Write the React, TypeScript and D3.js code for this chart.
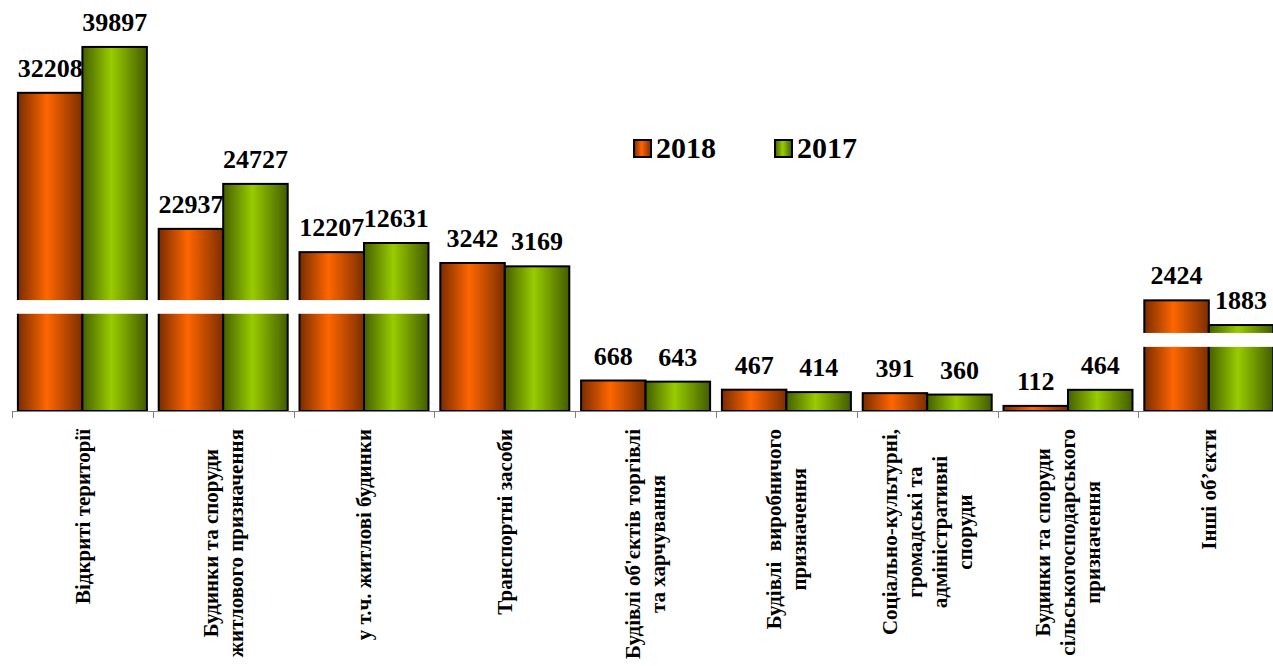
import { useEffect, useRef } from "react"
import * as d3 from "d3"

// categories (line breaks marked with "|")
const categories = [
  "Відкриті території",
  "Будинки та споруди|житлового призначення",
  "у т.ч. житлові будинки",
  "Транспортні засоби",
  "Будівлі об'єктів торгівлі|та харчування",
  "Будівлі  виробничого|призначення",
  "Соціально-культурні,|громадські та|адміністративні|споруди",
  "Будинки та споруди|сільськогосподарського|призначення",
  "Інші об’єкти",
]
const series = ["2018", "2017"]

// values shown in the labels
const labels2018 = [32208, 22937, 12207, 3242, 668, 467, 391, 112, 2424]
const labels2017 = [39897, 24727, 12631, 3169, 643, 414, 360, 464, 1883]

// bar heights in the chart's own (broken-axis) units, as drawn in the picture
const bars2018 = [6970, 3990, 3480, 3242, 668, 467, 391, 112, 2424]
const bars2017 = [7975, 4975, 3680, 3169, 643, 414, 360, 464, 1883]

// white "axis break" strips: first..last category, value range
const breakFrom = [0, 8]
const breakTo = [2, 8]
const breakLow = [2130, 1405]
const breakHigh = [2430, 1710]

const W = 1273
const H = 666

export default function App() {
  const svgRef = useRef<SVGSVGElement>(null)

  useEffect(() => {
    if (!svgRef.current) return
    const svg = d3.select(svgRef.current)
    svg.selectAll("*").remove()

    const baseY = 411
    const left = 12
    const step = 140.8

    const defs = svg.append("defs")
    const gradient = (id: string, stops: [number, string][]) => {
      const g = defs
        .append("linearGradient")
        .attr("id", id)
        .attr("x1", "0%")
        .attr("x2", "100%")
        .attr("y1", "0%")
        .attr("y2", "0%")
      stops.forEach(([o, c]) => g.append("stop").attr("offset", o).attr("stop-color", c))
    }
    gradient("grad2018", [
      [0, "#7a2c00"],
      [0.45, "#ff6600"],
      [1, "#7c2e00"],
    ])
    gradient("grad2017", [
      [0, "#455f00"],
      [0.45, "#99cc00"],
      [1, "#435c00"],
    ])
    const fills: Record<string, string> = { "2018": "url(#grad2018)", "2017": "url(#grad2017)" }

    const idx = d3.range(categories.length)
    const x = d3
      .scaleBand<number>()
      .domain(idx)
      .range([left, left + step * categories.length])
    const xs = d3.scaleBand<string>().domain(series).range([0, x.bandwidth()]).paddingOuter(0.0915)
    const y = d3.scaleLinear().domain([0, 9000]).range([baseY, baseY - 9000 * 0.04565])

    const rows = idx.flatMap((i) => [
      { i, s: "2018", h: bars2018[i], label: labels2018[i] },
      { i, s: "2017", h: bars2017[i], label: labels2017[i] },
    ])

    // bars
    svg
      .append("g")
      .selectAll("rect")
      .data(rows)
      .enter()
      .append("rect")
      .attr("x", (d) => x(d.i)! + xs(d.s)!)
      .attr("width", xs.bandwidth())
      .attr("y", (d) => y(d.h))
      .attr("height", (d) => baseY - y(d.h))
      .attr("fill", (d) => fills[d.s])
      .attr("stroke", "#000")
      .attr("stroke-width", 2)

    // break strips
    breakFrom.forEach((f, k) => {
      const x0 = x(f)! + xs("2018")! - 2
      const x1 = x(breakTo[k])! + xs("2017")! + xs.bandwidth() + 2
      svg
        .append("rect")
        .attr("x", x0)
        .attr("width", x1 - x0)
        .attr("y", y(breakHigh[k]))
        .attr("height", y(breakLow[k]) - y(breakHigh[k]))
        .attr("fill", "#fff")
    })

    // category axis
    const axis = svg.append("g").attr("stroke", "#808080").attr("stroke-width", 1)
    axis
      .append("line")
      .attr("x1", left)
      .attr("x2", W)
      .attr("y1", baseY + 0.5)
      .attr("y2", baseY + 0.5)
    idx.concat([categories.length]).forEach((i) => {
      const tx = Math.round(left + step * i) + 0.5
      axis.append("line").attr("x1", tx).attr("x2", tx).attr("y1", baseY).attr("y2", baseY + 7)
    })

    // value labels
    svg
      .append("g")
      .selectAll("text")
      .data(rows)
      .enter()
      .append("text")
      .attr("x", (d) => x(d.i)! + xs(d.s)! + xs.bandwidth() / 2)
      .attr("y", (d) => y(d.h) - 16)
      .attr("text-anchor", "middle")
      .attr("font-size", 26)
      .attr("font-weight", "bold")
      .attr("fill", "#000")
      .text((d) => d.label)

    // category labels, rotated
    const lineH = 25
    const top = 429
    idx.forEach((i) => {
      const lines = categories[i].split("|")
      const g = svg
        .append("g")
        .attr("transform", `translate(${x(i)! + x.bandwidth() / 2},${top}) rotate(-90)`)
      const texts = lines.map((ln, k) =>
        g
          .append("text")
          .attr("y", (k - (lines.length - 1) / 2) * lineH)
          .attr("dy", "0.35em")
          .attr("text-anchor", "middle")
          .attr("font-size", 21)
          .attr("font-weight", "bold")
          .attr("fill", "#000")
          .style("white-space", "pre")
          .text(ln)
      )
      const maxLen = d3.max(texts, (t) => (t.node() as SVGTextElement).getComputedTextLength()) || 0
      texts.forEach((t) => t.attr("x", -maxLen / 2))
    })

    // legend
    const legend = [
      { s: "2018", x: 634 },
      { s: "2017", x: 775 },
    ]
    legend.forEach((l) => {
      svg
        .append("rect")
        .attr("x", l.x)
        .attr("y", 140)
        .attr("width", 17)
        .attr("height", 17)
        .attr("fill", fills[l.s])
        .attr("stroke", "#000")
        .attr("stroke-width", 2)
      svg
        .append("text")
        .attr("x", l.x + 22)
        .attr("y", 158)
        .attr("font-size", 30)
        .attr("font-weight", "bold")
        .attr("fill", "#000")
        .text(l.s)
    })
  }, [])

  return (
    <svg
      ref={svgRef}
      width={W}
      height={H}
      style={{ position: "absolute", left: 0, top: 0, background: "#fff" }}
      fontFamily="'Liberation Serif', 'Times New Roman', serif"
    />
  )
}
